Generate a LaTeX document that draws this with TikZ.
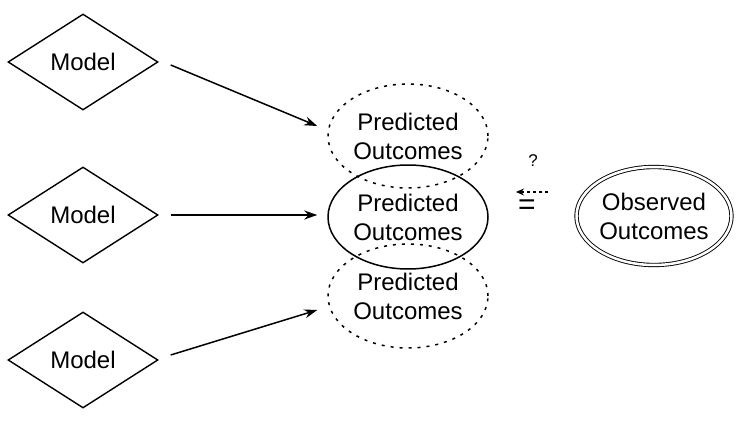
\documentclass[tikz,border=0pt]{standalone}
\usepackage{fontspec}
\setmainfont{Liberation Sans}
\usetikzlibrary{shapes.geometric,arrows.meta}
\begin{document}
\begin{tikzpicture}[x=1pt,y=-1pt,
  every node/.style={font=\fontsize{24}{29}\selectfont, align=center, inner sep=0pt},
  modelbox/.style={diamond, draw, line width=1.4pt, minimum width=150pt, minimum height=96pt, aspect=1.56},
  predbox/.style={ellipse, draw, line width=1.5pt, minimum width=160pt, minimum height=104pt},
  dotbox/.style={predbox, dash pattern=on 3pt off 6pt},
  obsbox/.style={ellipse, draw, double, double distance=2.5pt, line width=0.9pt, minimum width=155pt, minimum height=98pt},
  conn/.style={line width=1.5pt, -{Stealth[length=13pt,width=9pt]}}]
\useasboundingbox (0,0) rectangle (744,423);
\node[modelbox] (m1) at (83,62) {Model};
\node[modelbox] (m2) at (83,215) {Model};
\node[modelbox] (m3) at (83,360) {Model};
\node[dotbox] (p1) at (408,136) {Predicted\\Outcomes};
\node[dotbox] (p3) at (408,296) {Predicted\\Outcomes};
\node[predbox] (p2) at (408,217) {Predicted\\Outcomes};
\node[obsbox] (o) at (654,216) {Observed\\Outcomes};
\draw[conn] ([xshift=12pt,yshift=-3pt]m1.east) -- ([xshift=-10pt,yshift=10pt]p1.west);
\draw[conn] ([xshift=12pt]m2.east) -- ([xshift=-10pt,yshift=2pt]p2.west);
\draw[conn] ([xshift=12pt,yshift=5pt]m3.east) -- ([xshift=-10pt,yshift=-14pt]p3.west);
\node[font=\fontsize{17}{20}\selectfont] (q) at (533,161) {?};
\node[font=\fontsize{30}{30}\selectfont] (eq) at (527,207) {=};
\coordinate (da) at (548,192);
\coordinate (db) at (516,192);
\draw[line width=1.6pt, dash pattern=on 3pt off 3pt, -{Stealth[length=8pt,width=7pt]}] (da) -- (db);
\end{tikzpicture}
\end{document}
